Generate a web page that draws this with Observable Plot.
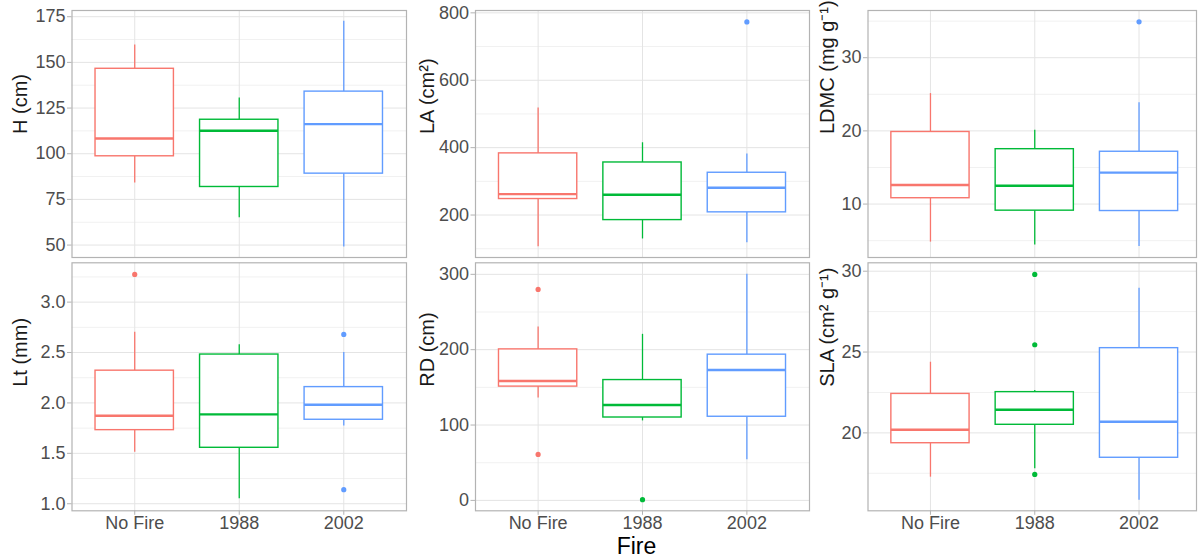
<!DOCTYPE html>
<html>
<head>
<meta charset="utf-8">
<script src="https://cdn.jsdelivr.net/npm/d3@7"></script>
<script src="https://cdn.jsdelivr.net/npm/@observablehq/plot@0.6"></script>
<style>
  html, body { margin: 0; padding: 0; background: #fff; overflow: hidden; }
  #chart { position: relative; width: 1198px; height: 557px; font-family: "Liberation Sans", Arial, sans-serif; }
  #chart > svg { position: absolute; }
</style>
</head>
<body>
<div id="chart"></div>
<script>
// ---------- DATA ----------
const categories = ["No Fire", "1988", "2002"];
const colors = ["#F8766D", "#00BA38", "#619CFF"];

// box stats per category: [lower whisker, Q1, median, Q3, upper whisker]
const hStats    = [[84, 98.6, 108.3, 146.5, 159.5], [65, 81.8, 112.6, 118.6, 130.5], [49, 89.1, 116.2, 134, 172.5]];
const laStats   = [[106, 247.5, 262, 383, 518], [129, 185, 260, 356, 414.5], [118, 208, 281, 325.5, 381]];
const ldmcStats = [[4.8, 10.8, 12.6, 19.85, 25.1], [4.4, 9.1, 12.5, 17.5, 20.1], [4.2, 9.05, 14.3, 17.15, 23.85]];
const ltStats   = [[1.51, 1.73, 1.873, 2.32, 2.70], [1.05, 1.555, 1.886, 2.48, 2.577], [1.77, 1.833, 1.982, 2.157, 2.50]];
const rdStats   = [[136, 151, 158.4, 200.4, 230], [105.5, 110, 126.5, 159.7, 220.4], [54, 111, 173, 193.4, 300]];
const slaStats  = [[17.26, 19.36, 20.19, 22.41, 24.37], [17.78, 20.5, 21.43, 22.52, 22.62], [15.84, 18.46, 20.69, 25.24, 28.95]];

// outliers: [category, value]
const hOutliers    = [];
const laOutliers   = [["2002", 773]];
const ldmcOutliers = [["2002", 34.9]];
const ltOutliers   = [["No Fire", 3.275], ["2002", 2.68], ["2002", 1.14]];
const rdOutliers   = [["No Fire", 280], ["No Fire", 61], ["1988", 1]];
const slaOutliers  = [["1988", 29.8], ["1988", 25.45], ["1988", 17.43]];

// axis titles
const titles = ["H (cm)", "LA (cm²)", "LDMC (mg g⁻¹)", "Lt (mm)", "RD (cm)", "SLA (cm² g⁻¹)"];
const xTitle = "Fire";

// tick values (major) and minor grid values
const hTicks = [50, 75, 100, 125, 150, 175],     hMinor = [62.5, 87.5, 112.5, 137.5, 162.5];
const laTicks = [200, 400, 600, 800],            laMinor = [100, 300, 500, 700];
const ldmcTicks = [10, 20, 30],                  ldmcMinor = [5, 15, 25, 35];
const ltTicks = [1.0, 1.5, 2.0, 2.5, 3.0],       ltMinor = [1.25, 1.75, 2.25, 2.75, 3.25];
const rdTicks = [0, 100, 200, 300],              rdMinor = [50, 150, 250];
const slaTicks = [20, 25, 30],                   slaMinor = [17.5, 22.5, 27.5];

// y domains (as in the picture)
const hDomain = [43.2, 178.4], laDomain = [74, 807], ldmcDomain = [2.7, 36.45];
const ltDomain = [0.93, 3.39], rdDomain = [-13.8, 315.3], slaDomain = [15.18, 30.52];

// ---------- LAYOUT ----------
const cols = [
  {x: 0,   w: 410, ml: 71.5, mr: 4,  po: 0.225, align: 0.5,  titleDx: 51},
  {x: 410, w: 402, ml: 65,   mr: 3,  po: 0.225, align: 0.5,  titleDx: 48},
  {x: 812, w: 386, ml: 55.5, mr: 2,  po: 0.2,   align: 0.56, titleDx: 40}
];
const rowsL = [
  {y: 0,   h: 260, mt: 10,  mb: 3},
  {y: 260, h: 297, mt: 2.3, mb: 46.7}
];

const panels = [
  {stats: hStats,    outliers: hOutliers,    ticks: hTicks,    minor: hMinor,    domain: hDomain,    title: titles[0], r: 0, c: 0, fmt: d3.format("d")},
  {stats: laStats,   outliers: laOutliers,   ticks: laTicks,   minor: laMinor,   domain: laDomain,   title: titles[1], r: 0, c: 1, fmt: d3.format("d")},
  {stats: ldmcStats, outliers: ldmcOutliers, ticks: ldmcTicks, minor: ldmcMinor, domain: ldmcDomain, title: titles[2], r: 0, c: 2, fmt: d3.format("d")},
  {stats: ltStats,   outliers: ltOutliers,   ticks: ltTicks,   minor: ltMinor,   domain: ltDomain,   title: titles[3], r: 1, c: 0, fmt: d3.format(".1f")},
  {stats: rdStats,   outliers: rdOutliers,   ticks: rdTicks,   minor: rdMinor,   domain: rdDomain,   title: titles[4], r: 1, c: 1, fmt: d3.format("d"), xTitle: true},
  {stats: slaStats,  outliers: slaOutliers,  ticks: slaTicks,  minor: slaMinor,  domain: slaDomain,  title: titles[5], r: 1, c: 2, fmt: d3.format("d")}
];

const tickColor = "#b3b3b3", textColor = "#4d4d4d", gridMajor = "#e4e4e4", gridMinor = "#f1f1f1";
const chart = document.getElementById("chart");

for (const p of panels) {
  const col = cols[p.c], row = rowsL[p.r];
  const boxes = categories.map((cat, i) => ({
    cat, lo: p.stats[i][0], q1: p.stats[i][1], med: p.stats[i][2], q3: p.stats[i][3], hi: p.stats[i][4]
  }));
  const outs = p.outliers.map(([cat, v]) => ({cat, v}));
  const bottom = p.r === 1;

  const marks = [
    Plot.ruleY(p.minor, {stroke: gridMinor, strokeWidth: 1}),
    Plot.ruleY(p.ticks, {stroke: gridMajor, strokeWidth: 1}),
    Plot.ruleX(categories, {stroke: gridMajor, strokeWidth: 1}),
    Plot.ruleX(boxes, {x: "cat", y1: "q3", y2: "hi", stroke: "cat", strokeWidth: 1.3}),
    Plot.ruleX(boxes, {x: "cat", y1: "lo", y2: "q1", stroke: "cat", strokeWidth: 1.3}),
    Plot.barY(boxes, {x: "cat", y1: "q1", y2: "q3", fill: "white", stroke: "cat", strokeWidth: 1.4}),
    Plot.tickY(boxes, {x: "cat", y: "med", stroke: "cat", strokeWidth: 2.4}),
    Plot.dot(outs, {x: "cat", y: "v", fill: "cat", r: 2.6}),
    Plot.frame({stroke: tickColor, strokeWidth: 1.2}),
    Plot.axisY(p.ticks, {tickSize: 4.5, tickPadding: 2, stroke: tickColor, fill: textColor, fontSize: 18, tickFormat: p.fmt, label: null}),
    Plot.text([p.title], {text: d => d, frameAnchor: "left", rotate: -90, dx: -col.titleDx, fontSize: 20, fill: "#1a1a1a"})
  ];
  if (bottom) {
    marks.push(Plot.axisX({tickSize: 4.5, tickPadding: 0.5, stroke: tickColor, fill: textColor, fontSize: 18, label: null}));
  }
  if (p.xTitle) {
    marks.push(Plot.text([xTitle], {text: d => d, frameAnchor: "bottom", lineAnchor: "middle", dy: 35.5, dx: -6, fontSize: 23, fill: "#000"}));
  }

  const svg = Plot.plot({
    width: col.w, height: row.h,
    marginLeft: col.ml, marginRight: col.mr, marginTop: row.mt, marginBottom: row.mb,
    style: {fontFamily: "'Liberation Sans', Arial, sans-serif", fontSize: "18px", background: "transparent", overflow: "visible"},
    x: {type: "band", domain: categories, paddingInner: 0.25, paddingOuter: col.po, align: col.align, round: false, axis: null},
    y: {domain: p.domain, nice: false, axis: null},
    color: {domain: categories, range: colors},
    marks
  });
  svg.style.left = col.x + "px";
  svg.style.top = row.y + "px";
  chart.appendChild(svg);
}
</script>
</body>
</html>
